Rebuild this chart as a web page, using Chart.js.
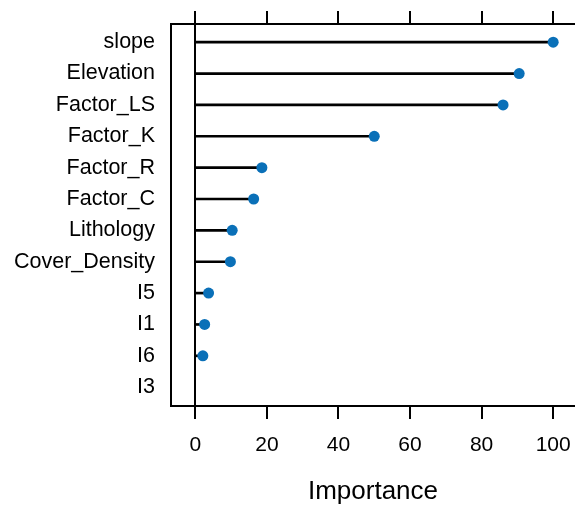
<!DOCTYPE html>
<html>
<head>
<meta charset="utf-8">
<script src="https://cdn.jsdelivr.net/npm/chart.js@4.4.1/dist/chart.umd.min.js"></script>
<style>
  html, body { margin: 0; padding: 0; background: #fff; overflow: hidden; }
  canvas { display: block; }
</style>
</head>
<body>
<canvas id="impChart" width="575" height="505"></canvas>
<script>
// variable importance
const categories = ['slope', 'Elevation', 'Factor_LS', 'Factor_K', 'Factor_R', 'Factor_C',
                    'Lithology', 'Cover_Density', 'I5', 'I1', 'I6', 'I3'];
const importance = [100, 90.5, 86, 50, 18.6, 16.3, 10.3, 9.8, 3.7, 2.6, 2.1, null];
const xTicks = [0, 20, 40, 60, 80, 100];

const dotColor = '#0a70b8';

// top border, top ticks and the zero reference line
const framePlugin = {
    id: 'frame',
    beforeDatasetsDraw(chart) {
        const { ctx, chartArea } = chart;
        const x = chart.scales.x;
        ctx.save();
        ctx.strokeStyle = '#000';
        ctx.lineWidth = 2;
        ctx.beginPath();
        ctx.moveTo(chartArea.left - 1, chartArea.top);
        ctx.lineTo(chartArea.right, chartArea.top);
        xTicks.forEach(v => {
            const px = Math.round(x.getPixelForValue(v));
            ctx.moveTo(px, chartArea.top);
            ctx.lineTo(px, chartArea.top - 13);
        });
        const zx = Math.round(x.getPixelForValue(0));
        ctx.moveTo(zx, chartArea.top);
        ctx.lineTo(zx, chartArea.bottom);
        ctx.stroke();
        ctx.restore();
    }
};

const points = importance.map((v, i) => ({ x: v, y: i }));

const ctx = document.getElementById('impChart').getContext('2d');
new Chart(ctx, {
    type: 'bar',
    data: {
        datasets: [{
            type: 'bar',
            indexAxis: 'y',
            order: 2,
            data: points,
            backgroundColor: '#000',
            barThickness: 2,
            borderWidth: 0
        }, {
            type: 'scatter',
            order: 1,
            data: points,
            pointRadius: 5.5,
            pointHoverRadius: 5.5,
            pointBackgroundColor: dotColor,
            pointBorderColor: dotColor,
            pointBorderWidth: 0,
            showLine: false
        }]
    },
    options: {
        responsive: false,
        devicePixelRatio: 1,
        animation: false,
        layout: { autoPadding: false, padding: { top: 24, right: 0, left: 0, bottom: 0 } },
        plugins: {
            legend: { display: false },
            tooltip: { enabled: false }
        },
        scales: {
            x: {
                type: 'linear',
                position: 'bottom',
                offset: false,
                min: -6.8,
                max: 106.1,
                afterBuildTicks: s => { s.ticks = xTicks.map(v => ({ value: v })); },
                afterFit: s => { s.height = 99; s.paddingLeft = 0; s.paddingRight = 0; },
                ticks: {
                    color: '#000',
                    font: { family: 'Liberation Sans, Arial, sans-serif', size: 21 },
                    padding: 14,
                    maxRotation: 0
                },
                grid: { offset: false, drawOnChartArea: false, drawTicks: true, tickLength: 13, color: '#000', lineWidth: 2 },
                border: { display: true, color: '#000', width: 2 },
                title: {
                    display: true,
                    text: 'Importance',
                    color: '#000',
                    font: { family: 'Liberation Sans, Arial, sans-serif', size: 26, lineHeight: 1 },
                    padding: 0
                }
            },
            y: {
                type: 'linear',
                reverse: true,
                offset: false,
                min: -0.58,
                max: 11.6,
                afterBuildTicks: s => { s.ticks = categories.map((c, i) => ({ value: i })); },
                afterFit: s => { s.width = 171; s.paddingTop = 0; s.paddingBottom = 0; },
                ticks: {
                    color: '#000',
                    font: { family: 'Liberation Sans, Arial, sans-serif', size: 21.5 },
                    padding: 8,
                    callback: v => categories[v]
                },
                grid: { offset: false, display: false },
                border: { display: true, color: '#000', width: 2 }
            }
        }
    },
    plugins: [framePlugin]
});
</script>
</body>
</html>
